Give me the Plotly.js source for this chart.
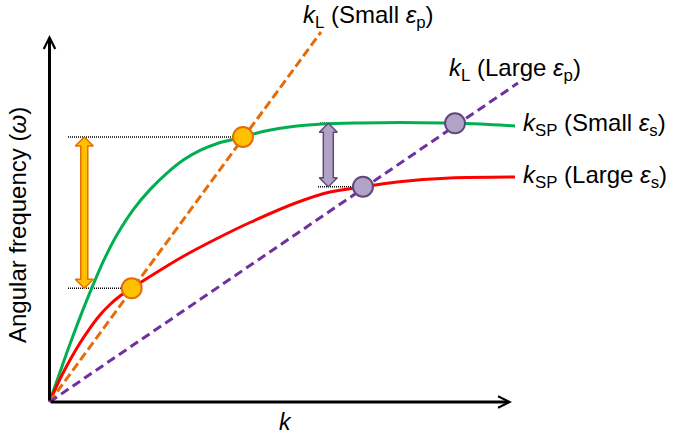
<!DOCTYPE html>
<html>
<head>
<meta charset="utf-8">
<script src="https://cdn.plot.ly/plotly-3.0.1.min.js"></script>
<style>html,body{margin:0;padding:0;background:#fff;}#chart{width:675px;height:435px;}</style>
</head>
<body>
<div id="chart"></div>
<script>
// ---- data (k, omega in arbitrary units) ----
const K_GREEN = [0, 0.227, 0.443, 0.731, 0.947, 1.163, 1.453, 1.812, 2.173, 2.534, 2.893, 3.254, 3.615, 4.184, 4.616, 5.351, 5.914, 6.714, 7.578, 8.508, 9.308, 10.065];
const W_GREEN = [0, 0.815, 1.578, 2.537, 3.204, 3.831, 4.542, 5.243, 5.787, 6.229, 6.591, 6.856, 7.038, 7.221, 7.371, 7.520, 7.575, 7.602, 7.616, 7.602, 7.575, 7.520];
const K_RED = [0, 0.227, 0.443, 0.659, 0.876, 1.092, 1.308, 1.524, 1.777, 2.173, 2.886, 3.622, 4.335, 5.351, 6.065, 6.778, 7.514, 8.659, 10.065];
const W_RED = [0, 0.627, 1.144, 1.608, 2.016, 2.371, 2.657, 2.888, 3.098, 3.420, 3.965, 4.455, 4.891, 5.436, 5.722, 5.866, 5.995, 6.104, 6.131];
const K_LIGHT_SMALL = [0, 5.870];
const W_LIGHT_SMALL = [0, 10.082];
const K_LIGHT_LARGE = [0, 10.130];
const W_LIGHT_LARGE = [0, 8.692];
const K_CROSS_ORANGE = [1.777, 4.184];
const W_CROSS_ORANGE = [3.098, 7.221];
const K_CROSS_PURPLE = [6.778, 8.768];
const W_CROSS_PURPLE = [5.866, 7.594];
const K_ARROW_ORANGE = 0.752;
const K_ARROW_PURPLE = 6.028;
const K_DOT_START_ORANGE = [0.40, 0.40];
const K_DOT_START_PURPLE = [5.805, 5.849];
const AXIS_END = [10, 10];
const LABELS = [
  '<i>k</i><sub>L</sub> (Small <i>ε</i><sub>p</sub>)',
  '<i>k</i><sub>L</sub> (Large <i>ε</i><sub>p</sub>)',
  '<i>k</i><sub>SP</sub> (Small <i>ε</i><sub>s</sub>)',
  '<i>k</i><sub>SP</sub> (Large <i>ε</i><sub>s</sub>)'
];
const X_TITLE = '<i>k</i>';
const Y_TITLE = 'Angular frequency (<i>ω</i>)';

// ---- layout geometry ----
const W = 675, H = 435;
const X_RANGE = [-1.0703, 13.5243];
const Y_RANGE = [-0.8992, 10.9537];
const dxPerPx = (X_RANGE[1] - X_RANGE[0]) / W;
const dyPerPx = (Y_RANGE[1] - Y_RANGE[0]) / H;
const FONT = 'Arial, "Liberation Sans", sans-serif';

const ORANGE = '#E46C0A', GOLD = '#FFC000', GREEN = '#00B050', RED = '#FF0000';
const PURPLE = '#7030A0', LILAC = '#B3A2C7', LILAC_EDGE = '#5F497A';

function blockArrow(k, w0, w1, halfShaftPx, halfHeadPx, headPx) {
  const ws = halfShaftPx * dxPerPx, wh = halfHeadPx * dxPerPx, h = headPx * dyPerPx;
  const xs = [k, k + wh, k + ws, k + ws, k + wh, k, k - wh, k - ws, k - ws, k - wh, k];
  const ys = [w1, w1 - h, w1 - h, w0 + h, w0 + h, w0, w0 + h, w0 + h, w1 - h, w1 - h, w1];
  return {xs, ys};
}

const traces = [];
// dotted guide lines
const dotStyle = {color: '#000', width: 1.4, dash: '1px,1px'};
for (let i = 0; i < 2; i++) {
  traces.push({x: [K_DOT_START_ORANGE[i], K_CROSS_ORANGE[i]], y: [W_CROSS_ORANGE[i], W_CROSS_ORANGE[i]], mode: 'lines', line: dotStyle, hoverinfo: 'skip'});
  traces.push({x: [K_DOT_START_PURPLE[i], K_CROSS_PURPLE[i]], y: [W_CROSS_PURPLE[i], W_CROSS_PURPLE[i]], mode: 'lines', line: dotStyle, hoverinfo: 'skip'});
}
// dispersion curves
traces.push({x: K_GREEN, y: W_GREEN, mode: 'lines', line: {color: GREEN, width: 3, shape: 'spline', smoothing: 0.9}});
traces.push({x: K_RED, y: W_RED, mode: 'lines', line: {color: RED, width: 3, shape: 'spline', smoothing: 0.9}});
// light lines
traces.push({x: K_LIGHT_SMALL, y: W_LIGHT_SMALL, mode: 'lines', line: {color: ORANGE, width: 3, dash: '9px,4px'}});
traces.push({x: K_LIGHT_LARGE, y: W_LIGHT_LARGE, mode: 'lines', line: {color: PURPLE, width: 3, dash: '9px,5px'}});
// crossing points
traces.push({x: K_CROSS_ORANGE, y: W_CROSS_ORANGE, mode: 'markers', marker: {size: 20, color: GOLD, line: {color: ORANGE, width: 2}}});
traces.push({x: K_CROSS_PURPLE, y: W_CROSS_PURPLE, mode: 'markers', marker: {size: 20, color: LILAC, line: {color: LILAC_EDGE, width: 2}}});
// double arrows
const a1 = blockArrow(K_ARROW_ORANGE, W_CROSS_ORANGE[0], W_CROSS_ORANGE[1], 3.5, 9, 9);
traces.push({x: a1.xs, y: a1.ys, mode: 'lines', fill: 'toself', fillcolor: GOLD, line: {color: ORANGE, width: 1.5}});
const a2 = blockArrow(K_ARROW_PURPLE, W_CROSS_PURPLE[0], W_CROSS_PURPLE[1], 5, 9, 9);
traces.push({x: a2.xs, y: a2.ys, mode: 'lines', fill: 'toself', fillcolor: LILAC, line: {color: LILAC_EDGE, width: 1.5}});

function px(x) { return x / W; }
function py(y) { return 1 - y / H; }
const labelFont = {family: FONT, size: 24, color: '#000'};
const annotations = [
  // axes with arrowheads
  {x: AXIS_END[0], y: 0, ax: 0, ay: 0, xref: 'x', yref: 'y', axref: 'x', ayref: 'y', text: '', showarrow: true, arrowhead: 5, arrowsize: 0.75, arrowwidth: 3, arrowcolor: '#000'},
  {x: 0, y: AXIS_END[1], ax: 0, ay: 0, xref: 'x', yref: 'y', axref: 'x', ayref: 'y', text: '', showarrow: true, arrowhead: 5, arrowsize: 0.75, arrowwidth: 3, arrowcolor: '#000'},
  {x: px(301), y: py(16), xref: 'paper', yref: 'paper', xanchor: 'left', yanchor: 'middle', text: LABELS[0], showarrow: false, font: labelFont},
  {x: px(447), y: py(69), xref: 'paper', yref: 'paper', xanchor: 'left', yanchor: 'middle', text: LABELS[1], showarrow: false, font: labelFont},
  {x: px(521), y: py(124), xref: 'paper', yref: 'paper', xanchor: 'left', yanchor: 'middle', text: LABELS[2], showarrow: false, font: labelFont},
  {x: px(521), y: py(176), xref: 'paper', yref: 'paper', xanchor: 'left', yanchor: 'middle', text: LABELS[3], showarrow: false, font: labelFont},
  {x: px(285), y: py(422), xref: 'paper', yref: 'paper', xanchor: 'center', yanchor: 'middle', text: X_TITLE, showarrow: false, font: {family: FONT, size: 23, color: '#000'}},
  {x: px(17), y: py(225), xref: 'paper', yref: 'paper', xanchor: 'center', yanchor: 'middle', text: Y_TITLE, textangle: -90, showarrow: false, font: {family: FONT, size: 24, color: '#000'}}
];

const layout = {
  width: W, height: H, autosize: false,
  margin: {l: 0, r: 0, t: 0, b: 0, pad: 0},
  paper_bgcolor: '#fff', plot_bgcolor: '#fff',
  showlegend: false,
  xaxis: {range: X_RANGE, visible: false, fixedrange: true},
  yaxis: {range: Y_RANGE, visible: false, fixedrange: true},
  annotations: annotations,
  font: {family: FONT}
};
Plotly.newPlot('chart', traces, layout, {displayModeBar: false, staticPlot: true});
</script>
</body>
</html>
